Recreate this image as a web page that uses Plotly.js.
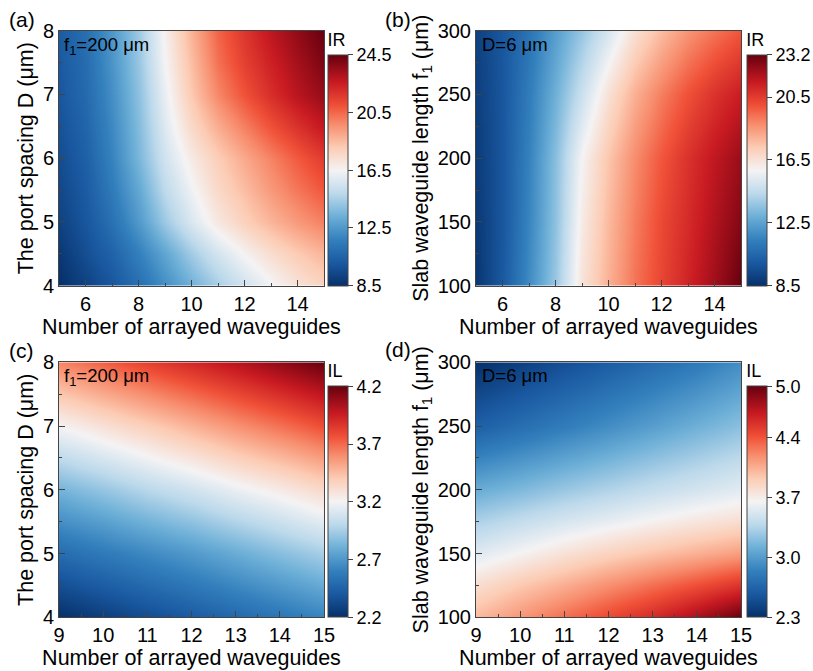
<!DOCTYPE html>
<html>
<head>
<meta charset="utf-8">
<script src="https://cdn.plot.ly/plotly-3.0.1.min.js"></script>
<style>
  html, body { margin: 0; padding: 0; background: #ffffff; }
  #chart { width: 813px; height: 671px; }
</style>
</head>
<body>
<div id="chart"></div>
<script>
// ---------- Data ----------
// Panel (a): IR vs number of arrayed waveguides (x) and port spacing D (y), f1 = 200 um
const xA = [5, 6, 7, 8, 9, 10, 11, 12, 13, 14, 15];
const yA = [4, 4.5, 5, 5.5, 6, 6.5, 7, 7.5, 8];
const zA = [
  [8.5, 9.2, 10.0, 11.0, 12.2, 13.4, 14.5, 15.5, 16.4, 17.2, 17.8],
  [8.8, 9.7, 10.5, 11.7, 13.0, 14.4, 15.6, 16.6, 17.4, 18.1, 18.7],
  [9.2, 10.0, 11.1, 12.6, 14.3, 15.8, 17.0, 17.9, 18.7, 19.4, 20.0],
  [9.4, 10.2, 11.5, 13.1, 15.0, 16.4, 17.6, 18.5, 19.4, 20.2, 20.9],
  [9.6, 10.4, 11.8, 13.6, 15.5, 16.9, 18.0, 19.0, 19.9, 20.8, 21.6],
  [9.8, 10.6, 12.0, 13.8, 15.9, 17.6, 18.9, 20.0, 21.0, 21.9, 22.7],
  [10.0, 10.8, 12.2, 14.0, 16.2, 18.2, 19.8, 21.0, 22.0, 22.9, 23.6],
  [10.1, 10.9, 12.4, 14.2, 16.5, 18.5, 20.3, 21.5, 22.4, 23.3, 24.1],
  [10.2, 11.0, 12.5, 14.3, 16.7, 18.8, 20.6, 21.8, 22.8, 23.7, 24.5]
];
const ticksA = [8.5, 12.5, 16.5, 20.5, 24.5];

// Panel (b): IR vs number of arrayed waveguides (x) and slab length f1 (y), D = 6 um
const xB = [5, 6, 7, 8, 9, 10, 11, 12, 13, 14, 15];
const yB = [100, 150, 200, 250, 300];
const zB = [
  [8.7, 10.0, 11.8, 13.8, 16.5, 18.0, 19.3, 20.3, 21.2, 22.2, 23.2],
  [8.8, 9.9, 11.6, 13.6, 16.2, 17.8, 19.1, 20.2, 21.0, 21.9, 22.7],
  [8.9, 9.9, 11.5, 13.5, 15.9, 17.5, 18.8, 19.9, 20.8, 21.6, 22.3],
  [9.0, 9.9, 11.3, 13.0, 14.8, 16.6, 18.0, 19.1, 20.0, 20.8, 21.4],
  [9.1, 9.9, 11.0, 12.4, 13.7, 15.1, 16.6, 17.7, 18.6, 19.3, 19.9]
];
const ticksB = [8.5, 12.5, 16.5, 20.5, 23.2];

// Panel (c): IL vs number of arrayed waveguides (x) and port spacing D (y), f1 = 200 um
const xC = [9, 10, 11, 12, 13, 14, 15];
const yC = [4, 5, 6, 7, 8];
const zC = [
  [2.20, 2.27, 2.34, 2.41, 2.48, 2.55, 2.62],
  [2.50, 2.57, 2.64, 2.71, 2.79, 2.87, 2.95],
  [2.82, 2.90, 2.99, 3.07, 3.16, 3.24, 3.33],
  [3.20, 3.29, 3.38, 3.48, 3.58, 3.67, 3.77],
  [3.62, 3.72, 3.82, 3.91, 4.00, 4.10, 4.20]
];
const ticksC = [2.2, 2.7, 3.2, 3.7, 4.2];

// Panel (d): IL vs number of arrayed waveguides (x) and slab length f1 (y), D = 6 um
const xD = [9, 10, 11, 12, 13, 14, 15];
const yD = [100, 125, 150, 175, 200, 250, 300];
const zD = [
  [4.00, 4.15, 4.30, 4.45, 4.60, 4.78, 5.00],
  [3.80, 3.93, 4.05, 4.18, 4.30, 4.42, 4.55],
  [3.55, 3.66, 3.77, 3.87, 3.96, 4.04, 4.12],
  [3.33, 3.42, 3.51, 3.59, 3.67, 3.74, 3.80],
  [3.10, 3.18, 3.27, 3.35, 3.43, 3.50, 3.57],
  [2.62, 2.72, 2.82, 2.92, 3.02, 3.12, 3.22],
  [2.30, 2.40, 2.50, 2.60, 2.70, 2.80, 2.92]
];
const ticksD = [2.3, 3.0, 3.7, 4.4, 5.0];

const panelLabels = ['(a)', '(b)', '(c)', '(d)'];
const cbTitles = ['IR', 'IR', 'IL', 'IL'];
const noteF1 = 'f<sub>1</sub>=200 μm';
const noteD = 'D=6 μm';
const xTitle = 'Number of arrayed waveguides';
const yTitleD = 'The port spacing D (μm)';
const yTitleF = 'Slab waveguide length f<sub>1</sub> (μm)';

// ---------- Styling ----------
const W = 813, H = 671;
const FONT = 'Liberation Sans, Arial, sans-serif';
const INK = '#000000';
const cscale = [
  [0.00, '#06306a'],
  [0.10, '#1a59a1'],
  [0.20, '#3380bd'],
  [0.30, '#6cafd7'],
  [0.40, '#bcd9eb'],
  [0.50, '#f4f3f4'],
  [0.60, '#fcccb4'],
  [0.70, '#f78d6d'],
  [0.78, '#f05138'],
  [0.88, '#c81a22'],
  [1.00, '#67000f']
];

const px = v => v / W;
const py = v => 1 - v / H;

const colL = [59, 324], colR = [476, 741];
const rowT = [30.7, 285.7], rowB = [362.3, 617.3];

function cb(xpix, bottomPix, lenPix, tvals, title) {
  return {
    x: px(xpix), xanchor: 'left', xpad: 0,
    y: py(bottomPix), yanchor: 'bottom', ypad: 0,
    len: lenPix, lenmode: 'pixels',
    thickness: 20, thicknessmode: 'pixels',
    outlinewidth: 1, outlinecolor: '#444',
    ticks: 'outside', ticklen: 5, tickwidth: 1, tickcolor: '#444',
    tickvals: tvals,
    ticktext: tvals.map(v => v.toFixed(1)),
    tickfont: { family: FONT, size: 18, color: INK },
    title: { text: title, side: 'top', font: { family: FONT, size: 18, color: INK } }
  };
}

function hm(x, y, z, tvals, xa, ya, cbx, cby, title) {
  return {
    type: 'heatmap', x: x, y: y, z: z,
    xaxis: xa, yaxis: ya,
    zmin: tvals[0], zmax: tvals[tvals.length - 1],
    zsmooth: 'best',
    colorscale: cscale,
    colorbar: cb(cbx, cby, 256, tvals, title),
    hoverinfo: 'x+y+z'
  };
}

const traces = [
  hm(xA, yA, zA, ticksA, 'x', 'y', 328, rowT[1], cbTitles[0]),
  hm(xB, yB, zB, ticksB, 'x2', 'y2', 746.7, rowT[1], cbTitles[1]),
  hm(xC, yC, zC, ticksC, 'x3', 'y3', 328, rowB[1], cbTitles[2]),
  hm(xD, yD, zD, ticksD, 'x4', 'y4', 746.7, rowB[1], cbTitles[3])
];

function xaxis(dom, range, dtick, minorDtick, anchor) {
  return {
    domain: [px(dom[0]), px(dom[1])], anchor: anchor,
    range: range, dtick: dtick, tick0: 0,
    ticks: 'inside', ticklen: 6, tickwidth: 1, tickcolor: '#444',
    minor: { dtick: minorDtick, ticks: 'inside', ticklen: 3, tickcolor: '#444', showgrid: false },
    showline: true, mirror: true, linecolor: '#444', linewidth: 1,
    showgrid: false, zeroline: false,
    tickfont: { family: FONT, size: 20, color: INK },
    title: { text: xTitle, standoff: 2, font: { family: FONT, size: 21.5, color: INK } }
  };
}
function yaxis(dom, range, dtick, minorDtick, anchor, title) {
  return {
    domain: [py(dom[1]), py(dom[0])], anchor: anchor,
    range: range, dtick: dtick, tick0: 0,
    ticks: 'inside', ticklen: 6, tickwidth: 1, tickcolor: '#444',
    minor: { dtick: minorDtick, ticks: 'inside', ticklen: 3, tickcolor: '#444', showgrid: false },
    showline: true, mirror: true, linecolor: '#444', linewidth: 1,
    showgrid: false, zeroline: false,
    tickfont: { family: FONT, size: 20, color: INK },
    title: { text: title, standoff: 3, font: { family: FONT, size: 21.5, color: INK } }
  };
}

const annotations = [];
const labelPos = [[21.5, 20], [398, 20], [21.5, 351], [398, 349]];
panelLabels.forEach((t, i) => {
  annotations.push({
    text: t, xref: 'paper', yref: 'paper',
    x: px(labelPos[i][0]), y: py(labelPos[i][1]),
    xanchor: 'center', yanchor: 'middle', showarrow: false,
    font: { family: FONT, size: 21, color: INK }
  });
});
const notePos = [[62, 32, noteF1], [480, 32, noteD], [62, 363, noteF1], [480, 363, noteD]];
notePos.forEach(p => {
  annotations.push({
    text: p[2], xref: 'paper', yref: 'paper',
    x: px(p[0]), y: py(p[1]),
    xanchor: 'left', yanchor: 'top', showarrow: false,
    font: { family: FONT, size: 18.5, color: INK }
  });
});

const layout = {
  width: W, height: H,
  margin: { l: 0, r: 0, t: 0, b: 0 },
  paper_bgcolor: '#ffffff', plot_bgcolor: '#ffffff',
  showlegend: false,
  font: { family: FONT, color: INK },
  xaxis: xaxis(colL, [5, 15], 2, 1, 'y'),
  yaxis: yaxis(rowT, [4, 8], 1, 0.5, 'x', yTitleD),
  xaxis2: xaxis(colR, [5, 15], 2, 1, 'y2'),
  yaxis2: yaxis(rowT, [100, 300], 50, 25, 'x2', yTitleF),
  xaxis3: xaxis(colL, [9, 15], 1, 0.5, 'y3'),
  yaxis3: yaxis(rowB, [4, 8], 1, 0.5, 'x3', yTitleD),
  xaxis4: xaxis(colR, [9, 15], 1, 0.5, 'y4'),
  yaxis4: yaxis(rowB, [100, 300], 50, 25, 'x4', yTitleF),
  annotations: annotations
};

Plotly.newPlot('chart', traces, layout, { staticPlot: true, displayModeBar: false });
</script>
</body>
</html>
